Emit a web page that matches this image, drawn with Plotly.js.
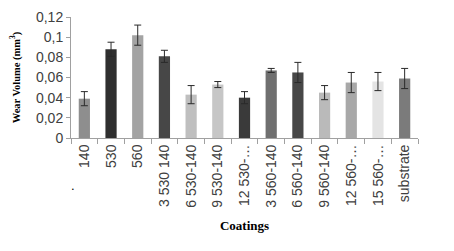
<!DOCTYPE html>
<html>
<head>
<meta charset="utf-8">
<script src="https://cdn.plot.ly/plotly-3.0.1.min.js"></script>
<style>html,body{margin:0;padding:0;background:#fff;}#chart{width:454px;height:251px;}</style>
</head>
<body>
<div id="chart"></div>
<script>
var coatings = ["140", "530", "560", "3 530 140", "6 530-140", "9 530-140", "12 530-…", "3 560-140", "6 560-140", "9 560-140", "12 560-…", "15 560-…", "substrate"];
var wearVolume = [0.039, 0.088, 0.102, 0.081, 0.043, 0.053, 0.040, 0.067, 0.065, 0.045, 0.055, 0.056, 0.059];
var wearError = [0.007, 0.007, 0.010, 0.006, 0.009, 0.003, 0.006, 0.002, 0.010, 0.007, 0.010, 0.009, 0.010];
var barColors = ["#8e8e8e", "#2f2f2f", "#a3a3a3", "#474747", "#bfbfbf", "#c6c6c6", "#3a3a3a", "#6f6f6f", "#474747", "#bababa", "#a8a8a8", "#e4e4e4", "#7b7b7b"];

var trace = {
  type: "bar",
  x: coatings,
  y: wearVolume,
  marker: {color: barColors, line: {width: 0}},
  error_y: {type: "data", array: wearError, visible: true, color: "#2a2a2a", thickness: 1, width: 3.5}
};

var layout = {
  width: 454, height: 251,
  margin: {l: 71, r: 36, t: 17, b: 113},
  paper_bgcolor: "#ffffff", plot_bgcolor: "#ffffff",
  separators: ",.",
  bargap: 0.58,
  showlegend: false,
  font: {family: "Liberation Sans, Arial, sans-serif", color: "#404040", size: 14},
  xaxis: {
    type: "category",
    tickangle: -90,
    ticks: "outside", ticklen: 5, tickcolor: "#a0a0a0", tickson: "boundaries",
    showline: true, linecolor: "#a0a0a0", linewidth: 1,
    showgrid: false, zeroline: false,
    tickfont: {size: 14, color: "#404040"},
    title: {text: "<b>Coatings</b>", font: {family: "Liberation Serif, Times New Roman, serif", size: 13, color: "#000"}, standoff: 14}
  },
  yaxis: {
    range: [0, 0.12],
    tickvals: [0, 0.02, 0.04, 0.06, 0.08, 0.1, 0.12],
    ticktext: ["0", "0,02", "0,04", "0,06", "0,08", "0,1", "0,12"],
    ticks: "outside", ticklen: 4, tickcolor: "#a0a0a0",
    showline: true, linecolor: "#a0a0a0", linewidth: 1,
    showgrid: false, zeroline: false,
    tickfont: {size: 14, color: "#404040"},
    title: {text: "<b>Wear Volume (mm<sup>3</sup>)</b>", font: {family: "Liberation Serif, Times New Roman, serif", size: 10.5, color: "#000"}, standoff: 13}
  },
  annotations: [
    {text: ".", xref: "paper", yref: "paper", x: -0.005, y: -0.47, showarrow: false, font: {size: 13, color: "#000"}}
  ]
};

Plotly.newPlot("chart", [trace], layout, {displayModeBar: false, staticPlot: true});
</script>
</body>
</html>
